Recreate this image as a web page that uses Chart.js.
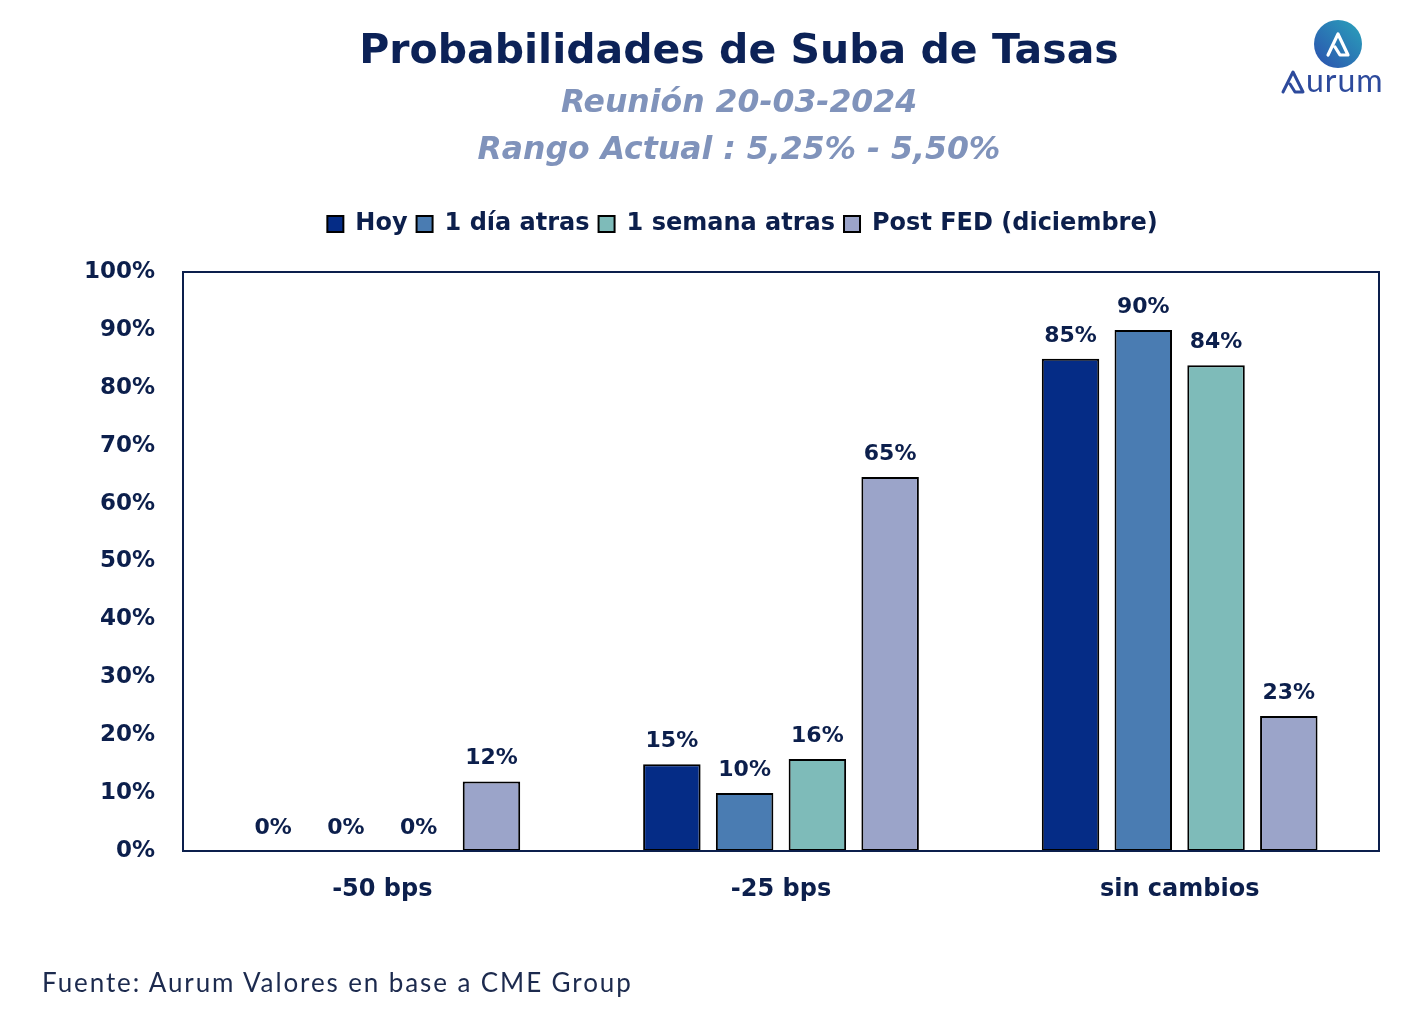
<!DOCTYPE html>
<html>
<head>
<meta charset="utf-8">
<script src="https://cdn.jsdelivr.net/npm/chart.js@4.4.1/dist/chart.umd.min.js"></script>
<style>
  html, body { margin: 0; padding: 0; background: #fff; }
  #wrap { position: relative; width: 1422px; height: 1033px; overflow: hidden; }
  #chart { position: absolute; left: 0; top: 0; }
  .t { position: absolute; left: 0; width: 1478px; text-align: center; font-family: "DejaVu Sans", Verdana, sans-serif; font-weight: bold; }
  #title { top: 25px; font-size: 41px; color: #0c2257; }
  .sub { font-style: italic; font-size: 31.5px; color: #8093bb; }
  #sub1 { top: 83px; }
  #sub2 { top: 130px; }
  #foot { position: absolute; left: 42px; top: 966px; font-family: "Lato", "Open Sans", sans-serif; font-size: 26px; color: #1c2a4e; letter-spacing: 1.9px; }
  #logo { position: absolute; left: 1278px; top: 14px; }
</style>
</head>
<body>
<div id="wrap">
  <canvas id="chart" width="1422" height="1033"></canvas>
  <div class="t" id="title">Probabilidades de Suba de Tasas</div>
  <div class="t sub" id="sub1">Reunión 20-03-2024</div>
  <div class="t sub" id="sub2">Rango Actual : 5,25% - 5,50%</div>
  <div id="foot">Fuente: Aurum Valores en base a CME Group</div>
  <svg id="logo" width="124" height="86" viewBox="0 0 124 86">
    <defs>
      <linearGradient id="g" x1="0" y1="1" x2="1" y2="0">
        <stop offset="0" stop-color="#2b4fae"/>
        <stop offset="1" stop-color="#2aa3bb"/>
      </linearGradient>
    </defs>
    <circle cx="60" cy="30" r="24" fill="url(#g)"/>
    <path d="M50 41 L60 20 L70 41 L62 41 L57 33" fill="none" stroke="#fff" stroke-width="3.2" stroke-linejoin="round" stroke-linecap="round"/>
    <path d="M5 78 L15 58 L25 78 L17 78 L12 70" fill="none" stroke="#2d4a9c" stroke-width="3" stroke-linejoin="round" stroke-linecap="round"/>
    <text x="28" y="78" font-family="Lato, 'Open Sans', sans-serif" font-size="32" letter-spacing="1" fill="#2d4a9c">urum</text>
  </svg>
</div>
<script>
  // datos del grafico
  var categorias = ['-50 bps', '-25 bps', 'sin cambios'];
  var nombresSeries = ['Hoy', '1 día atras', '1 semana atras', 'Post FED (diciembre)'];
  var hoy = [0, 15, 85];
  var unDiaAtras = [0, 10, 90];
  var unaSemanaAtras = [0, 15.9, 83.9];
  var postFed = [12, 64.6, 23.3];
  var ticksY = [0, 10, 20, 30, 40, 50, 60, 70, 80, 90, 100];

  var colores = ['#052c86', '#4a7cb2', '#7ebbb9', '#9ba4c9'];
  var navy = '#0c1f4c';
  var fuente = '"DejaVu Sans", Verdana, sans-serif';

  var valores = [hoy, unDiaAtras, unaSemanaAtras, postFed];
  var datasets = [];
  for (var i = 0; i < valores.length; i++) {
    datasets.push({
      label: nombresSeries[i],
      data: valores[i],
      backgroundColor: colores[i],
      borderColor: '#000',
      borderWidth: 2,
      borderSkipped: false,
      categoryPercentage: 0.73,
      barPercentage: 0.79
    });
  }

  // etiquetas arriba de cada barra
  var etiquetas = {
    id: 'etiquetas',
    afterDatasetsDraw: function(chart) {
      var ctx = chart.ctx;
      ctx.save();
      ctx.font = 'bold 22px ' + fuente;
      ctx.fillStyle = navy;
      ctx.textAlign = 'center';
      ctx.textBaseline = 'middle';
      chart.data.datasets.forEach(function(ds, i) {
        chart.getDatasetMeta(i).data.forEach(function(bar, j) {
          ctx.fillText(Math.round(ds.data[j]) + '%', bar.x, bar.y - 23);
        });
      });
      ctx.restore();
    }
  };

  // marco del area de grafico
  var marco = {
    id: 'marco',
    afterDraw: function(chart) {
      var a = chart.chartArea;
      var ctx = chart.ctx;
      ctx.save();
      ctx.strokeStyle = navy;
      ctx.lineWidth = 2;
      ctx.strokeRect(a.left, a.top, a.right - a.left, a.bottom - a.top);
      ctx.restore();
    }
  };

  // mas espacio bajo la leyenda y leyenda corrida a la derecha
  var ajusteLeyenda = {
    id: 'ajusteLeyenda',
    afterInit: function(chart) {
      var fit = chart.legend.fit;
      chart.legend.fit = function() {
        fit.call(this);
        this.height += 26;
      };
    },
    afterLayout: function(chart) {
      chart.legend.left += 53;
      chart.legend.right += 53;
    }
  };

  new Chart(document.getElementById('chart'), {
    type: 'bar',
    data: { labels: categorias, datasets: datasets },
    plugins: [etiquetas, marco, ajusteLeyenda],
    options: {
      responsive: false,
      animation: false,
      layout: { padding: { top: 203, right: 43, bottom: 0, left: 0 } },
      plugins: {
        title: { display: false },
        tooltip: { enabled: false },
        legend: {
          position: 'top',
          labels: {
            boxWidth: 16,
            boxHeight: 16,
            padding: 9,
            color: navy,
            font: { family: fuente, size: 24, weight: 'bold' }
          }
        }
      },
      scales: {
        x: {
          grid: { display: false },
          border: { display: true, color: navy, width: 2 },
          ticks: {
            padding: 16,
            color: navy,
            font: { family: fuente, size: 24, weight: 'bold' }
          },
          afterFit: function(scale) { scale.height = 182; }
        },
        y: {
          min: 0,
          max: 100,
          grid: { display: false },
          border: { display: true, color: navy, width: 2 },
          afterBuildTicks: function(scale) {
            scale.ticks = ticksY.map(function(v) { return { value: v }; });
          },
          ticks: {
            padding: 20,
            color: navy,
            font: { family: fuente, size: 23, weight: 'bold' },
            callback: function(v) { return v + '%'; }
          },
          afterFit: function(scale) { scale.width = 183; }
        }
      }
    }
  });
</script>
</body>
</html>
